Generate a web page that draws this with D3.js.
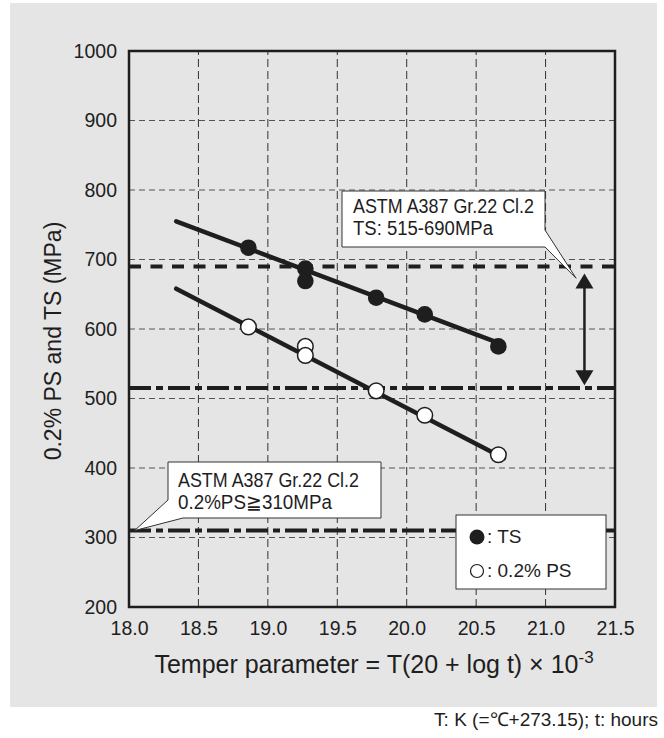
<!DOCTYPE html>
<html>
<head>
<meta charset="utf-8">
<script src="https://cdn.jsdelivr.net/npm/d3@7"></script>
<style>
	body { margin: 0; background: #fff; }
	svg { display: block; }
	text { font-family: "Liberation Sans", Arial, Helvetica, sans-serif; fill: #1e1e1e; }
</style>
</head>
<body>
<div id="chart"></div>
<script>
	"use strict";

	// temper parameter of each specimen
	var tpTS = [18.86, 19.27, 19.27, 19.78, 20.13, 20.66];
	var tpPS = [18.86, 19.27, 19.27, 19.78, 20.13, 20.66];
	// strengths (MPa)
	var valTS = [717, 687, 669, 645, 621, 575];
	var valPS = [603, 575, 562, 511, 476, 419];
	// regression lines, [tp, MPa] at both ends
	var fitTS = [[18.34, 755], [20.66, 580]];
	var fitPS = [[18.34, 658], [20.70, 414]];
	// ASTM limits
	var tsMax = 690, tsMin = 515, psMin = 310;
	var xTicks = [18.0, 18.5, 19.0, 19.5, 20.0, 20.5, 21.0, 21.5];
	var yTicks = [200, 300, 400, 500, 600, 700, 800, 900, 1000];

	var width = 664, height = 738;
	var margin = {top: 51, right: 49, bottom: 131, left: 129};

	var svg = d3.select("#chart").append("svg")
		.attr("width", width)
		.attr("height", height);

	// grey panel behind the chart
	svg.append("rect")
		.attr("x", 10).attr("y", 3)
		.attr("width", 647).attr("height", 704)
		.attr("fill", "#e5e5e5");

	var x = d3.scaleLinear().domain([18, 21.5]).range([margin.left, width - margin.right]);
	var y = d3.scaleLinear().domain([200, 1000]).range([height - margin.bottom, margin.top]);

	// grid
	var grid = svg.append("g").attr("class", "grid");
	grid.selectAll("line.v")
		.data(xTicks.slice(1, -1))
		.enter().append("line")
		.attr("class", "v")
		.attr("x1", function(d) { return x(d); })
		.attr("x2", function(d) { return x(d); })
		.attr("y1", y(200)).attr("y2", y(1000))
		.attr("stroke", "#333").attr("stroke-width", 1)
		.attr("stroke-dasharray", "8,4");
	grid.selectAll("line.h")
		.data(yTicks.slice(1, -1))
		.enter().append("line")
		.attr("class", "h")
		.attr("y1", function(d) { return y(d); })
		.attr("y2", function(d) { return y(d); })
		.attr("x1", x(18)).attr("x2", x(21.5))
		.attr("stroke", "#555").attr("stroke-width", 1)
		.attr("stroke-dasharray", "6,4");

	// limit lines
	var limits = [
		{v: tsMax, dash: "12,9.5"},
		{v: tsMin, dash: "22,5,7,5"},
		{v: psMin, dash: "22,5,7,5"}
	];
	svg.selectAll("line.limit")
		.data(limits)
		.enter().append("line")
		.attr("class", "limit")
		.attr("x1", x(18)).attr("x2", x(21.5))
		.attr("y1", function(d) { return y(d.v); })
		.attr("y2", function(d) { return y(d.v); })
		.attr("stroke", "#1e1e1e").attr("stroke-width", 4)
		.attr("stroke-dasharray", function(d) { return d.dash; });

	// frame
	svg.append("rect")
		.attr("x", x(18)).attr("y", y(1000))
		.attr("width", x(21.5) - x(18)).attr("height", y(200) - y(1000))
		.attr("fill", "none").attr("stroke", "#1e1e1e").attr("stroke-width", 2.5);

	// axes
	var xAxis = d3.axisBottom(x).tickValues(xTicks).tickSize(0).tickPadding(14)
		.tickFormat(d3.format(".1f"));
	var gx = svg.append("g").attr("transform", "translate(0," + y(200) + ")").call(xAxis);
	var yAxis = d3.axisLeft(y).tickValues(yTicks).tickSize(0).tickPadding(12)
		.tickFormat(d3.format("d"));
	var gy = svg.append("g").attr("transform", "translate(" + x(18) + ",0)").call(yAxis);
	[gx, gy].forEach(function(g) {
		g.attr("font-family", null).attr("font-size", null);
		g.select(".domain").remove();
		g.selectAll("text")
			.attr("font-size", 19.5)
			.attr("fill", "#1e1e1e");
	});
	gy.selectAll("text").attr("dy", "0.33em");

	// regression lines
	var line = d3.line()
		.x(function(d) { return x(d[0]); })
		.y(function(d) { return y(d[1]); });
	svg.selectAll("path.fit")
		.data([fitTS, fitPS])
		.enter().append("path")
		.attr("class", "fit")
		.attr("d", line)
		.attr("fill", "none")
		.attr("stroke", "#1e1e1e")
		.attr("stroke-width", 4.5)
		.attr("stroke-linecap", "round");

	// points
	svg.selectAll("circle.ts")
		.data(d3.zip(tpTS, valTS))
		.enter().append("circle")
		.attr("class", "ts")
		.attr("cx", function(d) { return x(d[0]); })
		.attr("cy", function(d) { return y(d[1]); })
		.attr("r", 8.3)
		.attr("fill", "#1e1e1e");
	svg.selectAll("circle.ps")
		.data(d3.zip(tpPS, valPS))
		.enter().append("circle")
		.attr("class", "ps")
		.attr("cx", function(d) { return x(d[0]); })
		.attr("cy", function(d) { return y(d[1]); })
		.attr("r", 7.8)
		.attr("fill", "#fff")
		.attr("stroke", "#1e1e1e")
		.attr("stroke-width", 1.5);

	// double arrow for the TS range
	var ax = x(21.28), aTop = y(680), aBot = y(519), ah = 15, aw = 9;
	svg.append("line")
		.attr("x1", ax).attr("x2", ax)
		.attr("y1", aTop + ah - 2).attr("y2", aBot - ah + 2)
		.attr("stroke", "#1e1e1e").attr("stroke-width", 2.5);
	svg.append("path")
		.attr("d", "M" + ax + "," + aTop + "L" + (ax + aw) + "," + (aTop + ah) + "L" + (ax - aw) + "," + (aTop + ah) + "Z" +
			"M" + ax + "," + aBot + "L" + (ax + aw) + "," + (aBot - ah) + "L" + (ax - aw) + "," + (aBot - ah) + "Z")
		.attr("fill", "#1e1e1e");

	// callouts
	function callout(pts, lines, tx, ty) {
		svg.append("path")
			.attr("d", "M" + pts.map(function(p) { return p.join(","); }).join("L") + "Z")
			.attr("fill", "#fff")
			.attr("stroke", "#333")
			.attr("stroke-width", 1);
		lines.forEach(function(s, i) {
			svg.append("text")
				.attr("x", tx).attr("y", ty + i * 22)
				.attr("font-size", 20)
				.attr("textLength", s.len)
				.attr("lengthAdjust", "spacingAndGlyphs")
				.text(s.t);
		});
	}
	var tip1 = [x(21.22), y(673)];
	callout([[342, 191], [545, 191], [545, 230], tip1, [545, 247], [342, 247]],
		[{t: "ASTM A387 Gr.22 Cl.2", len: 181}, {t: "TS: 515-690MPa", len: 140}], 353, 213);
	var tip2 = [x(18.04), y(psMin)];
	callout([[168, 462], [381, 462], [381, 518], [183, 518], tip2, [168, 500]],
		[{t: "ASTM A387 Gr.22 Cl.2", len: 181}, {t: "0.2%PS\u2267310MPa", len: 154}], 178, 487);

	// legend
	var legend = svg.append("g");
	legend.append("rect")
		.attr("x", 456).attr("y", 515)
		.attr("width", 150).attr("height", 74)
		.attr("fill", "#fff").attr("stroke", "#333").attr("stroke-width", 1);
	legend.append("circle").attr("cx", 477).attr("cy", 537).attr("r", 7.5).attr("fill", "#1e1e1e");
	legend.append("circle").attr("cx", 477).attr("cy", 571).attr("r", 6.5)
		.attr("fill", "#fff").attr("stroke", "#1e1e1e").attr("stroke-width", 1.2);
	legend.append("text").attr("x", 487).attr("y", 543).attr("font-size", 19).text(": TS");
	legend.append("text").attr("x", 487).attr("y", 577).attr("font-size", 19).text(": 0.2% PS");

	// axis titles
	var xt = svg.append("text")
		.attr("x", (x(18) + x(21.5)) / 2 + 2)
		.attr("y", 673)
		.attr("text-anchor", "middle")
		.attr("font-size", 25);
	xt.append("tspan").text("Temper parameter = T(20 + log t) \u00d7 10");
	xt.append("tspan").attr("dy", -10).attr("font-size", 17).text("-3");

	svg.append("text")
		.attr("transform", "translate(61," + (y(600) + 12) + ") rotate(-90)")
		.attr("text-anchor", "middle")
		.attr("font-size", 23)
		.text("0.2% PS and TS (MPa)");

	svg.append("text")
		.attr("x", 658).attr("y", 726)
		.attr("text-anchor", "end")
		.attr("font-size", 19)
		.text("T: K (=\u2103+273.15); t: hours");
</script>
</body>
</html>
